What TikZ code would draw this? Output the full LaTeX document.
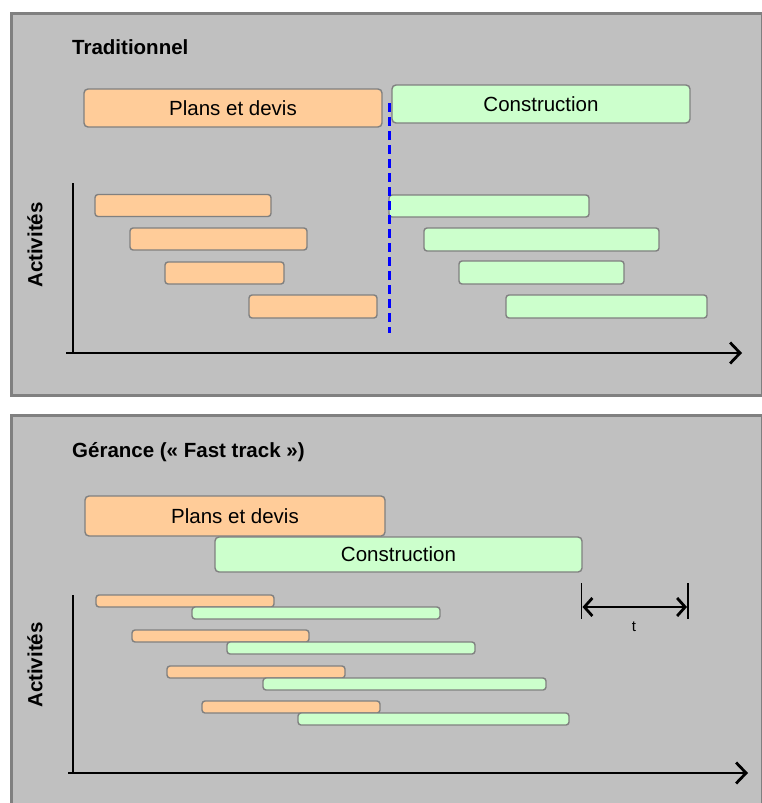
\documentclass[tikz,border=0pt]{standalone}
\usepackage{fontspec}
\setmainfont{Liberation Sans}
\usepackage{xcolor}
\usetikzlibrary{arrows.meta,positioning}
\definecolor{panelbg}{HTML}{C0C0C0}
\definecolor{panelrule}{HTML}{808080}
\definecolor{planfill}{HTML}{FFCC99}
\definecolor{buildfill}{HTML}{CCFFCC}
\tikzset{
  panel/.style={fill=panelbg, draw=panelrule, line width=3pt},
  phase/.style={rectangle, draw=panelrule, line width=1.4pt, rounded corners=4pt,
    inner sep=0pt, font=\fontsize{20.5}{24}\selectfont},
  planbox/.style={phase, fill=planfill},
  buildbox/.style={phase, fill=buildfill},
  planbar/.style={planbox, rounded corners=3pt},
  buildbar/.style={buildbox, rounded corners=3pt},
  heading/.style={anchor=base west, inner sep=0pt, font=\fontsize{20.5}{24}\selectfont\bfseries},
  axislabel/.style={rotate=90, inner sep=0pt, font=\fontsize{20.5}{24}\selectfont\bfseries},
  timeaxis/.style={line width=2.8pt, -{Straight Barb[length=10pt,width=21pt]}},
  actaxis/.style={line width=1.5pt}
}
\begin{document}
\begin{tikzpicture}[x=1pt, y=-1pt]
\useasboundingbox (0,0) rectangle (761,803);

% panels
\fill[white] (0,0) rectangle (761,803);
\draw[panel] (11.5,13.5) rectangle (762,395.5);
\draw[panel] (11.5,415.5) rectangle (762,810);

% --- Traditionnel ---
\node[heading] (trad) at (72,54) {Traditionnel};
\node[planbox, minimum width=298pt, minimum height=38pt] (tplan) at (233,108) {Plans et devis};
\node[buildbox, minimum width=298pt, minimum height=38pt] (tbuild) at (541,104) {Construction};

\node[axislabel] (tact) at (35,245) {Activités};
\coordinate (to) at (73,353);
\coordinate (ttop) at (73,183);
\coordinate (tstart) at (66,353);
\coordinate (tend) at (742,353);
\draw[actaxis] (ttop) -- (to);
\draw[timeaxis] (tstart) -- (tend);

% bars
\node[planbar, minimum width=176pt, minimum height=22pt] (tp1) at (183,205.5) {};
\node[planbar, minimum width=177pt, minimum height=22pt] (tp2) at (218.5,239) {};
\node[planbar, minimum width=119pt, minimum height=22pt] (tp3) at (224.5,273) {};
\node[planbar, minimum width=128pt, minimum height=23pt] (tp4) at (313,306.5) {};
\node[buildbar, minimum width=200pt, minimum height=22pt] (tb1) at (489,206) {};
\node[buildbar, minimum width=235pt, minimum height=23pt] (tb2) at (541.5,239.5) {};
\node[buildbar, minimum width=165pt, minimum height=23pt] (tb3) at (541.5,272.5) {};
\node[buildbar, minimum width=201pt, minimum height=23pt] (tb4) at (606.5,306.5) {};

% limite
\coordinate (cuttop) at (389,103);
\coordinate (cutbot) at (389,333);
\draw[blue, line width=3pt, dash pattern=on 9pt off 5pt] (cuttop) -- (cutbot);

% --- Gerance ---
\node[heading] (fast) at (72,457) {Gérance (« Fast track »)};
\node[planbox, minimum width=300pt, minimum height=40pt] (fplan) at (235,516) {Plans et devis};
\node[buildbox, minimum width=367pt, minimum height=35pt] (fbuild) at (398.5,554.5) {Construction};

\node[axislabel] (fact) at (35,665) {Activités};
\coordinate (fo) at (73,773);
\coordinate (ftop) at (73,595);
\coordinate (fstart) at (68,773);
\coordinate (fend) at (748,773);
\draw[actaxis] (ftop) -- (fo);
\draw[timeaxis] (fstart) -- (fend);

% bars
\node[planbar, minimum width=178pt, minimum height=12pt] (fp1) at (185,601) {};
\node[buildbar, minimum width=248pt, minimum height=12pt] (fb1) at (316,613) {};
\node[planbar, minimum width=177pt, minimum height=12pt] (fp2) at (220.5,636) {};
\node[buildbar, minimum width=248pt, minimum height=12pt] (fb2) at (351,648) {};
\node[planbar, minimum width=178pt, minimum height=12pt] (fp3) at (256,672) {};
\node[buildbar, minimum width=283pt, minimum height=12pt] (fb3) at (404.5,684) {};
\node[planbar, minimum width=178pt, minimum height=12pt] (fp4) at (291,707) {};
\node[buildbar, minimum width=271pt, minimum height=12pt] (fb4) at (433.5,719) {};

% delai t
\coordinate (tl1) at (581.5,583);
\coordinate (tl2) at (581.5,619);
\coordinate (tr1) at (688,583);
\coordinate (tr2) at (688,619);
\draw[line width=1.3pt] (tl1) -- (tl2);
\draw[line width=1.3pt] (tr1) -- (tr2);
\coordinate (da) at (582.5,607);
\coordinate (db) at (687,607);
\draw[line width=2.8pt, {Straight Barb[length=8pt,width=18pt]}-{Straight Barb[length=8pt,width=18pt]}] (da) -- (db);
\node[font=\fontsize{15}{17}\selectfont, inner sep=0pt] (tlab) at (634,627) {t};

\end{tikzpicture}
\end{document}
